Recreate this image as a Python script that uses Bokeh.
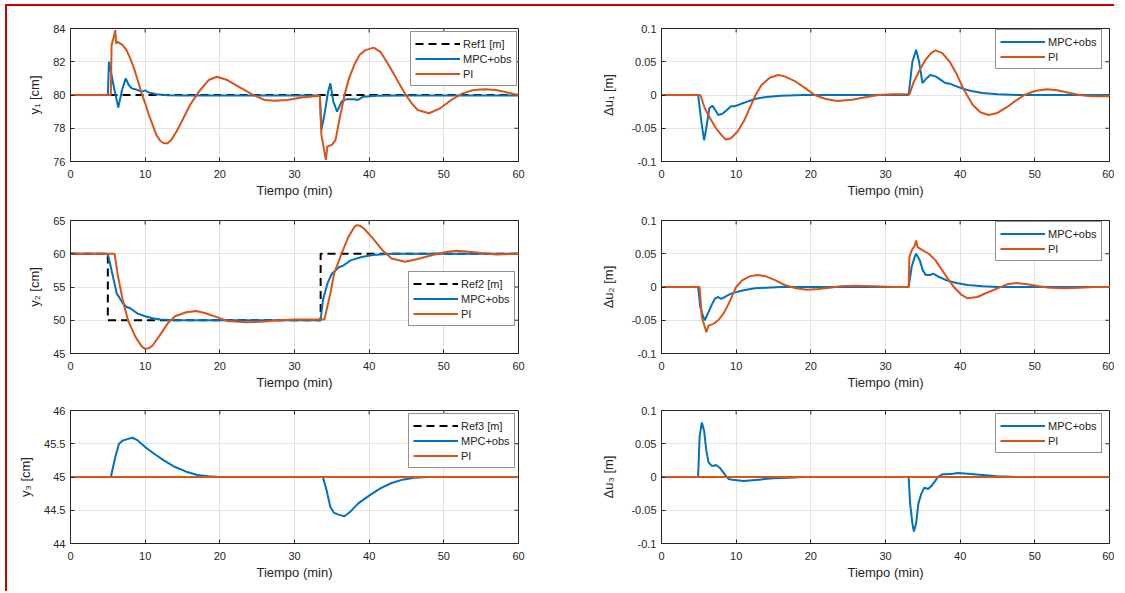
from bokeh.plotting import figure
from bokeh.models import (Legend, LegendItem, FixedTicker, CustomJSTickFormatter, Range1d)
from bokeh.layouts import column, row
from bokeh.embed import file_html
from bokeh.resources import INLINE

# ---------------- data ----------------
# y1 [cm]
ref1_t = [0, 60]
ref1_v = [80, 80]
y1_mpc_t = [0, 5.0, 5.15, 5.8, 6.4, 6.9, 7.4, 7.8, 8.2, 9.0, 9.5, 10.0, 10.5, 11.5, 13, 15, 20, 33.4,
            33.6, 34.0, 34.5, 34.8, 35.2, 35.7, 36.3, 37.0, 38.0, 38.5, 39.2, 41, 45, 60]
y1_mpc_v = [80, 80, 82.0, 80.5, 79.25, 80.3, 81.0, 80.6, 80.4, 80.3, 80.2, 80.28, 80.15, 80.05, 79.99, 79.97, 79.97, 79.97,
            77.9, 78.8, 80.2, 80.7, 79.6, 79.0, 79.6, 79.75, 79.75, 79.7, 79.9, 79.95, 79.97, 79.97]
y1_pi_t = [0, 5.4, 5.5, 5.8, 6.0, 6.1, 6.3, 7.0, 7.5, 8.0, 8.5, 9.0, 9.6, 10.0, 10.5, 11.0, 11.5, 12.0, 12.5,
           13.0, 13.5, 14.2, 15, 16, 17.2, 18.5, 19.6, 21, 22.5, 24.5, 26, 27.3, 29, 31, 33.4, 33.6, 34.0,
           34.2, 34.4, 35.0, 35.5, 36.0, 36.7, 37.3, 38, 38.7, 39.5, 40.6, 41.5, 42.2, 43, 44.0, 44.9, 45.7,
           46.5, 48.0, 49.5, 51, 52.5, 54, 55.5, 57, 58.5, 60]
y1_pi_v = [80, 80, 83.0, 83.5, 83.9, 83.1, 83.2, 83.0, 82.7, 82.2, 81.6, 80.9, 80.0, 79.5, 78.8, 78.2, 77.6, 77.25, 77.1,
           77.1, 77.3, 77.8, 78.5, 79.4, 80.2, 80.9, 81.1, 80.9, 80.5, 80.0, 79.7, 79.65, 79.7, 79.85, 79.95, 77.6, 76.6,
           76.1, 76.9, 77.0, 77.3, 78.5, 80.0, 81.0, 81.8, 82.4, 82.7, 82.85, 82.6, 82.1, 81.5, 80.7, 80.0, 79.5,
           79.1, 78.9, 79.2, 79.7, 80.1, 80.3, 80.35, 80.3, 80.15, 80.0]

# y2 [cm]
ref2_t = [0, 5.0, 5.0, 33.5, 33.5, 60]
ref2_v = [60, 60, 50, 50, 60, 60]
y2_mpc_t = [0, 5.0, 5.3, 5.6, 6.2, 7.0, 7.5, 8.0, 9.0, 10.0, 11.0, 12.0, 14.0, 33.5, 33.8, 34.4, 35.0,
            36.0, 36.5, 37.5, 39.0, 40.5, 43, 60]
y2_mpc_v = [60, 60, 58.5, 57.0, 54.0, 52.6, 52.0, 51.8, 51.0, 50.6, 50.3, 50.1, 50.0, 50.0, 53.0, 55.5, 57.0,
            58.0, 58.2, 59.0, 59.5, 59.8, 60.0, 60.0]
y2_pi_t = [0, 5.9, 6.3, 7.0, 7.7, 8.7, 9.6, 10.0, 10.5, 11.0, 12.0, 13.0, 14.0, 15.5, 16.8, 18.0, 19.5, 21.0,
           23.5, 26.0, 28.0, 30.0, 34.0, 34.8, 35.3, 36.3, 37.2, 38.0, 38.3, 38.8, 39.3, 40.5, 41.8, 43.0, 44.8,
           46.5, 48.5, 50.5, 51.7, 53.0, 55.0, 57.0, 60]
y2_pi_v = [60, 60, 57.0, 53.0, 50.0, 47.5, 46.0, 45.7, 45.8, 46.2, 47.8, 49.5, 50.6, 51.2, 51.4, 51.1, 50.5, 49.9,
           49.7, 49.8, 50.0, 50.1, 50.1, 54.0, 57.0, 60.0, 62.5, 64.0, 64.3, 64.2, 63.8, 62.3, 60.5, 59.3, 58.8,
           59.2, 59.8, 60.3, 60.45, 60.35, 60.1, 59.9, 60.0]

# y3 [cm]
ref3_t = [0, 60]
ref3_v = [45, 45]
y3_mpc_t = [0, 5.4, 6.0, 6.5, 7.0, 7.6, 8.3, 9.0, 10.0, 11.2, 12.5, 14.0, 15.5, 17.0, 18.5, 20.0, 33.8,
            34.3, 34.8, 35.3, 36.0, 36.7, 37.5, 38.5, 40.0, 41.5, 43.0, 44.5, 46.0, 48.0, 60]
y3_mpc_v = [45, 45, 45.3, 45.5, 45.55, 45.57, 45.59, 45.55, 45.45, 45.35, 45.25, 45.15, 45.08, 45.03, 45.01, 45.0, 45.0,
            44.8, 44.55, 44.46, 44.43, 44.41, 44.48, 44.6, 44.72, 44.83, 44.91, 44.96, 44.99, 45.0, 45.0]
y3_pi_t = [0, 60]
y3_pi_v = [45, 45]

# du1 [m]
du1_mpc_t = [0, 4.9, 5.4, 5.7, 6.0, 6.4, 6.8, 7.4, 7.6, 8.2, 8.8, 9.3, 9.8, 10.5, 11.5, 12.5, 14, 16, 19,
             33.1, 33.6, 34.1, 34.5, 34.95, 35.4, 36.0, 36.7, 37.5, 38.0, 38.6, 39.5, 40.5, 41.5, 43, 45, 48, 60]
du1_mpc_v = [0, 0, -0.045, -0.068, -0.05, -0.02, -0.016, -0.026, -0.03, -0.028, -0.022, -0.017, -0.017, -0.014,
             -0.01, -0.006, -0.003, -0.001, 0, 0, 0.05, 0.068, 0.05, 0.018, 0.024, 0.03, 0.028, 0.022, 0.018,
             0.017, 0.013, 0.009, 0.006, 0.003, 0.001, 0, 0]
du1_pi_t = [0, 5.2, 5.8, 6.5, 7.3, 8.0, 8.6, 9.3, 10.2, 11.0, 11.8, 12.6, 13.4, 14.5, 15.6, 16.5, 18, 19.3,
            20.5, 22, 23.5, 25.5, 27.5, 29, 31, 33.2, 33.8, 34.6, 35.3, 36.1, 36.7, 37.6, 38.6, 39.6, 40.4,
            40.9, 41.7, 42.7, 43.8, 45, 46.3, 47.5, 48.6, 50, 51.6, 53, 54.7, 56, 57.5, 60]
du1_pi_v = [0, 0, -0.02, -0.035, -0.05, -0.06, -0.067, -0.065, -0.055, -0.04, -0.02, 0.0, 0.015, 0.026, 0.03,
            0.028, 0.02, 0.01, 0.0, -0.006, -0.009, -0.007, -0.003, 0.0, 0.001, 0.001, 0.02, 0.038, 0.052,
            0.063, 0.067, 0.063, 0.05, 0.03, 0.01, 0.0, -0.015, -0.026, -0.03, -0.027, -0.018, -0.008, 0.0,
            0.006, 0.0085, 0.007, 0.003, 0.0, -0.002, -0.002]

# du2 [m]
du2_mpc_t = [0, 4.9, 5.2, 5.6, 5.8, 6.2, 6.8, 7.2, 7.6, 8.0, 8.5, 9.3, 10.2, 11, 12.5, 14, 16, 33.1, 33.5,
             33.9, 34.1, 34.6, 35.0, 35.4, 36.0, 36.4, 37.2, 38.2, 39.5, 41, 43, 45, 60]
du2_mpc_v = [0, 0, -0.03, -0.045, -0.05, -0.04, -0.025, -0.017, -0.015, -0.018, -0.015, -0.01, -0.007, -0.005,
             -0.002, -0.001, 0, 0, 0.03, 0.045, 0.05, 0.04, 0.025, 0.018, 0.018, 0.02, 0.015, 0.01, 0.006,
             0.003, 0.001, 0, 0]
du2_pi_t = [0, 5.1, 5.4, 5.8, 6.0, 6.3, 7.0, 7.6, 8.3, 9.0, 9.6, 10.0, 10.8, 11.8, 12.8, 14, 15.3, 16.5, 18,
            19.5, 21, 22.5, 24, 26, 28.5, 31, 33.1, 33.2, 33.5, 33.9, 34.1, 34.3, 35.0, 35.8, 36.7, 37.6,
            38.5, 39.3, 40.2, 41, 42.3, 43.5, 45, 46.3, 47.5, 49, 50.5, 52, 54, 56, 58, 60]
du2_pi_v = [0, 0, -0.045, -0.06, -0.068, -0.058, -0.055, -0.05, -0.04, -0.025, -0.01, 0.0, 0.01, 0.016, 0.018,
            0.016, 0.01, 0.003, -0.002, -0.004, -0.003, -0.001, 0.001, 0.002, 0.001, 0.0, 0.0, 0.045, 0.055,
            0.062, 0.07, 0.06, 0.055, 0.05, 0.04, 0.025, 0.01, -0.002, -0.012, -0.017, -0.015, -0.009,
            -0.002, 0.004, 0.006, 0.004, 0.001, -0.001, -0.002, -0.001, 0.0, 0.0]

# du3 [m]
du3_mpc_t = [0, 4.9, 5.1, 5.4, 5.7, 6.0, 6.3, 6.7, 7.0, 7.3, 7.8, 8.2, 8.6, 9.0, 9.5, 11, 13, 15, 17, 19,
             33.1, 33.3, 33.6, 33.8, 34.1, 34.4, 34.8, 35.2, 35.7, 36.1, 36.6, 37.0, 37.6, 38.2, 39.0,
             39.7, 41, 43, 45, 48, 60]
du3_mpc_v = [0, 0, 0.06, 0.082, 0.07, 0.04, 0.022, 0.017, 0.017, 0.018, 0.014, 0.008, 0.002, -0.003, -0.004,
             -0.006, -0.004, -0.002, -0.001, 0, 0, -0.04, -0.07, -0.082, -0.07, -0.04, -0.025, -0.016,
             -0.018, -0.014, -0.007, 0.0, 0.004, 0.004, 0.005, 0.006, 0.005, 0.003, 0.001, 0, 0]
du3_pi_t = [0, 60]
du3_pi_v = [0, 0]

x_ticks = [0, 10, 20, 30, 40, 50, 60]
y1_ticks = [76, 78, 80, 82, 84]
y2_ticks = [45, 50, 55, 60, 65]
y3_ticks = [44, 44.5, 45, 45.5, 46]
du_ticks = [-0.1, -0.05, 0, 0.05, 0.1]

# ---------------- styling ----------------
BLUE = "#0072BD"
ORANGE = "#D95319"
DARK = "#262626"
FONT = "Liberation Sans"
fmt_code = "return String(Math.round(tick*1000)/1000);"
FW, FH = 448, 133
TICK = 4


def make_fig(left, top, bottom, ylim, yticks, ylabel, series, leg_xy):
    p = figure(frame_width=FW, frame_height=FH,
               min_border_left=63 if left else 101,
               min_border_right=42 if left else 5,
               min_border_top=top, min_border_bottom=bottom,
               x_range=Range1d(0, 60), y_range=Range1d(*ylim),
               output_backend="svg", toolbar_location=None,
               background_fill_color="white", border_fill_color="white")
    p.outline_line_color = DARK
    p.outline_line_width = 1
    for ax in (p.xaxis[0], p.yaxis[0]):
        ax.major_tick_in = TICK
        ax.major_tick_out = 0
        ax.minor_tick_line_color = None
        ax.axis_line_color = DARK
        ax.major_tick_line_color = DARK
        ax.major_label_text_color = DARK
        ax.major_label_text_font = FONT
        ax.major_label_text_font_size = "11px"
        ax.axis_label_text_font = FONT
        ax.axis_label_text_font_size = "13px"
        ax.axis_label_text_font_style = "normal"
        ax.axis_label_text_color = DARK
        ax.formatter = CustomJSTickFormatter(code=fmt_code)
    p.xaxis[0].ticker = FixedTicker(ticks=x_ticks)
    p.yaxis[0].ticker = FixedTicker(ticks=yticks)
    p.xaxis[0].axis_label = "Tiempo (min)"
    p.yaxis[0].axis_label = ylabel
    p.xaxis[0].major_label_standoff = 8
    p.xaxis[0].axis_label_standoff = 2
    p.yaxis[0].major_label_standoff = 5
    p.yaxis[0].axis_label_standoff = 8 if left else 12
    p.xgrid.ticker = FixedTicker(ticks=x_ticks)
    p.ygrid.ticker = FixedTicker(ticks=yticks)
    for g in (p.xgrid[0], p.ygrid[0]):
        g.grid_line_color = "#e3e3e3"
        g.grid_line_width = 1

    # mirrored inward ticks on the top and right edges of the box
    y0, y1 = ylim
    dy = (y1 - y0) * TICK / FH
    dx = 60.0 * TICK / FW
    p.segment(x0=x_ticks, y0=[y1] * len(x_ticks), x1=x_ticks, y1=[y1 - dy] * len(x_ticks),
              line_color=DARK, line_width=1)
    p.segment(x0=[60] * len(yticks), y0=yticks, x1=[60 - dx] * len(yticks), y1=yticks,
              line_color=DARK, line_width=1)

    items = []
    for label, t, v, color, dash in series:
        r = p.line(t, v, line_color=color, line_width=2, line_dash=dash)
        items.append(LegendItem(label=label, renderers=[r]))
    leg = Legend(items=items, location=leg_xy, margin=0, padding=4, spacing=0,
                 glyph_width=45, glyph_height=15, label_height=15, label_standoff=3,
                 label_text_font=FONT, label_text_font_size="11px", label_text_color=DARK,
                 border_line_color=DARK, border_line_width=1, background_fill_alpha=1)
    p.add_layout(leg)
    return p


# row 1: frame top at y=28, row 2: 220, row 3: 410
p1 = make_fig(True, 22, 40, (76, 84), y1_ticks, "y\u2081 [cm]",
              [("Ref1 [m]", ref1_t, ref1_v, "black", "8 5"),
               ("MPC+obs", y1_mpc_t, y1_mpc_v, BLUE, "solid"),
               ("PI", y1_pi_t, y1_pi_v, ORANGE, "solid")], (340, 75))
p2 = make_fig(False, 22, 40, (-0.1, 0.1), du_ticks, "\u0394u\u2081 [m]",
              [("MPC+obs", du1_mpc_t, du1_mpc_v, BLUE, "solid"),
               ("PI", du1_pi_t, du1_pi_v, ORANGE, "solid")], (334, 92))
p3 = make_fig(True, 19, 40, (45, 65), y2_ticks, "y\u2082 [cm]",
              [("Ref2 [m]", ref2_t, ref2_v, "black", "8 5"),
               ("MPC+obs", y2_mpc_t, y2_mpc_v, BLUE, "solid"),
               ("PI", y2_pi_t, y2_pi_v, ORANGE, "solid")], (338, 27))
p4 = make_fig(False, 19, 40, (-0.1, 0.1), du_ticks, "\u0394u\u2082 [m]",
              [("MPC+obs", du2_mpc_t, du2_mpc_v, BLUE, "solid"),
               ("PI", du2_pi_t, du2_pi_v, ORANGE, "solid")], (334, 92))
p5 = make_fig(True, 17, 48, (44, 46), y3_ticks, "y\u2083 [cm]",
              [("Ref3 [m]", ref3_t, ref3_v, "black", "8 5"),
               ("MPC+obs", y3_mpc_t, y3_mpc_v, BLUE, "solid"),
               ("PI", y3_pi_t, y3_pi_v, ORANGE, "solid")], (338, 75))
p6 = make_fig(False, 17, 48, (-0.1, 0.1), du_ticks, "\u0394u\u2083 [m]",
              [("MPC+obs", du3_mpc_t, du3_mpc_v, BLUE, "solid"),
               ("PI", du3_pi_t, du3_pi_v, ORANGE, "solid")], (334, 90))

layout = column(row(p1, p2), row(p3, p4), row(p5, p6),
                styles={"border-top": "2px solid #c80000", "border-left": "2px solid #c80000",
                        "margin-top": "4px", "margin-left": "5px"})

open("out.html", "w").write(file_html(layout, INLINE))
